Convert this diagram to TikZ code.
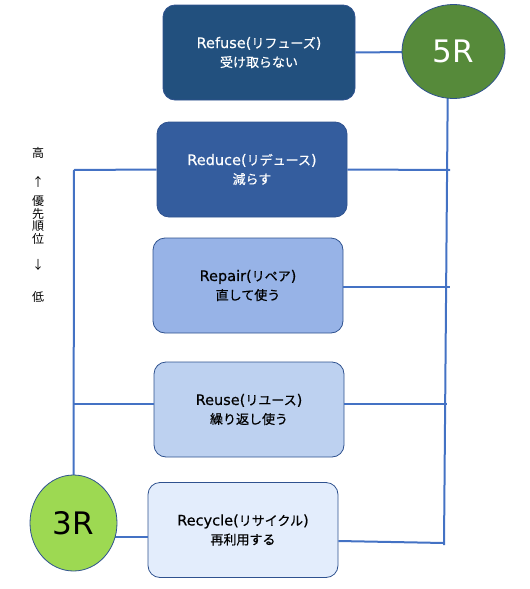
\documentclass[tikz,border=0pt]{standalone}
\usepackage{fontspec}
\usetikzlibrary{shapes.geometric}
\setmainfont{DejaVu Sans}[FakeBold=0.5]
\newfontfamily\bigfont{DejaVu Sans}
\newfontfamily\jpfont{Noto Sans CJK JP}[FakeBold=0.5]
\newfontfamily\jpplain{Noto Sans CJK JP}
\newcommand\jp[1]{{\fontsize{13}{19}\selectfont\jpfont #1}}
\definecolor{refusec}{HTML}{22507E}
\definecolor{reducec}{HTML}{345D9E}
\definecolor{repairc}{HTML}{97B3E7}
\definecolor{reusec}{HTML}{BDD1F0}
\definecolor{recyclec}{HTML}{E3EDFC}
\definecolor{borderc}{HTML}{2F528F}
\definecolor{linec}{HTML}{4472C4}
\definecolor{fiveRc}{HTML}{568A3A}
\definecolor{threeRc}{HTML}{9DD952}
\tikzset{
  px/.style={x=1pt,y=-1pt},
  rbox/.style={draw=borderc, line width=0.8pt, rounded corners=12pt, minimum width=190pt, minimum height=95pt, align=center, font=\fontsize{14.5}{19}\selectfont, inner sep=0pt},
  conn/.style={draw=linec, line width=2pt},
  rcirc/.style={ellipse, draw=borderc, line width=0.8pt, inner sep=0pt, font=\fontsize{31}{31}\selectfont\bigfont},
  side/.style={font=\fontsize{12}{12}\selectfont\jpplain, inner sep=0pt}
}
\begin{document}
\begin{tikzpicture}[px]
\useasboundingbox (0,0) rectangle (530,589);
% boxes
\node[rbox, fill=refusec, text=white, minimum width=192pt] (refuse) at (259,52.5) {Refuse(\jp{リフューズ})\\\jp{受け取らない}};
\node[rbox, fill=reducec, text=white] (reduce) at (252,169.5) {Reduce(\jp{リデュース})\\\jp{減らす}};
\node[rbox, fill=repairc, text=black] (repair) at (248,285.5) {Repair(\jp{リペア})\\\jp{直して使う}};
\node[rbox, fill=reusec, text=black] (reuse) at (249,409.5) {Reuse(\jp{リユース})\\\jp{繰り返し使う}};
\node[rbox, fill=recyclec, text=black] (recycle) at (243,530) {Recycle(\jp{リサイクル})\\\jp{再利用する}};
% side text
\node[side] (hi) at (38,153) {高};
\node[side] (up) at (38,182) {↑};
\node[side, align=center, font=\fontsize{12}{12.5}\selectfont\jpplain] (prio) at (38,220) {優\\先\\順\\位};
\node[side] (down) at (38,265) {↓};
\node[side] (lo) at (38,297) {低};
% coordinates
\coordinate (fivec) at (453.5,51.5);
\coordinate (threec) at (73.5,523);
\coordinate (rbot) at (444,545);
\coordinate (r1) at (450,170);
\coordinate (r2) at (450,287);
\coordinate (r3) at (447,404);
\coordinate (r4) at (444,543);
\coordinate (l1) at (74,170);
\coordinate (l3) at (74,404);
% connectors
\draw[conn] (refuse.east) -- (fivec);
\draw[conn] (448,60) -- (rbot);
\draw[conn] (reduce.east) -- (r1);
\draw[conn] (repair.east |- r2) -- (r2);
\draw[conn] (reuse.east |- r3) -- (r3);
\draw[conn] (recycle.east |- 0,541) -- (r4);
\draw[conn] (l1) -- (reduce.west);
\draw[conn] (l1) -- (threec);
\draw[conn] (l3) -- (reuse.west |- l3);
\draw[conn] (threec |- 0,537) -- (recycle.west |- 0,537);
% circles
\node[rcirc, fill=fiveRc, text=white, minimum width=103pt, minimum height=94pt] (five) at (fivec) {5R};
\node[rcirc, fill=threeRc, text=black, minimum width=87pt, minimum height=96pt] (three) at (threec) {3R};
\end{tikzpicture}
\end{document}
